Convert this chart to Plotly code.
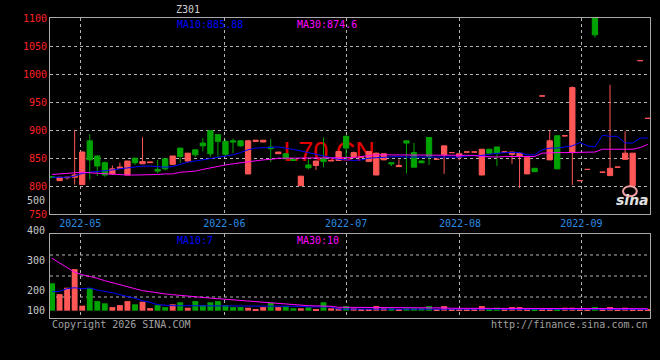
import plotly.graph_objects as go

TITLE = "Z301"
WATERMARK = "L70.CN"
IDX = list(range(80))

OPEN = [817, 810, 815, 816, 803, 881, 854, 842, 822, 832,
        820, 850, 840, 842, 830, 849, 839, 868, 845, 865,
        877, 899, 892, 880, 881, 881, 822, 880, 879, 870,
        858, 858, 848, 801, 838, 837, 849, 845, 846, 889,
        853, 852, 844, 820, 847, 842, 835, 881, 860, 845,
        887, 848, 856, 860, 852, 861, 861, 820, 866, 870,
        861, 857, 853, 822, 832, 961, 847, 890, 890, 860,
        810, 830, 1100, 825, 819, 834, 848, 801, 1024, 921]
HIGH = [818, 816, 817, 900, 862, 893, 855, 844, 837, 842,
        845, 851, 887, 843, 847, 849, 854, 868, 859, 866,
        886, 899, 892, 883, 885, 882, 883, 882, 882, 884,
        861, 859, 848, 818, 848, 845, 887, 846, 862, 891,
        862, 853, 862, 860, 858, 842, 848, 881, 877, 846,
        887, 849, 872, 861, 858, 861, 861, 866, 866, 870,
        861, 861, 859, 851, 832, 961, 899, 890, 890, 978,
        810, 830, 1100, 825, 981, 834, 898, 859, 1024, 921]
LOW = [815, 810, 812, 803, 803, 812, 818, 817, 821, 831,
       820, 838, 840, 842, 823, 828, 839, 842, 843, 852,
       862, 853, 853, 853, 859, 871, 822, 880, 878, 843,
       858, 849, 846, 801, 830, 829, 834, 845, 846, 847,
       850, 852, 844, 820, 847, 836, 835, 823, 834, 842,
       838, 848, 822, 860, 846, 861, 861, 820, 859, 836,
       861, 840, 797, 822, 826, 961, 847, 831, 889, 802,
       810, 830, 1065, 825, 818, 834, 848, 801, 1024, 921]
CLOSE = [816, 816, 816, 820, 861, 847, 836, 820, 831, 834,
         845, 842, 844, 843, 827, 831, 854, 853, 859, 856,
         872, 858, 880, 857, 879, 872, 881, 882, 882, 867,
         861, 849, 846, 818, 833, 845, 844, 846, 862, 868,
         860, 852, 862, 859, 858, 840, 837, 877, 834, 842,
         853, 848, 872, 860, 858, 861, 861, 866, 859, 859,
         861, 861, 859, 851, 826, 961, 881, 831, 890, 976,
         810, 830, 1070, 825, 832, 834, 859, 859, 1024, 921]
VOLUME = [137, 83, 115, 208, 25, 113, 48, 37, 18, 28,
          48, 32, 45, 13, 28, 18, 32, 42, 15, 48,
          28, 42, 48, 28, 18, 18, 15, 8, 18, 40,
          18, 23, 12, 12, 17, 4, 42, 12, 12, 23,
          12, 4, 8, 23, 12, 12, 8, 12, 12, 12,
          23, 8, 23, 8, 8, 8, 8, 23, 8, 15,
          8, 18, 18, 8, 8, 8, 8, 8, 15, 15,
          6, 6, 18, 6, 18, 6, 15, 6, 6, 6]
MA10 = [816, 816, 816, 818, 823, 825, 826, 828, 829, 831,
        833, 835, 836, 836, 835, 834, 835, 839, 843, 845,
        847, 849, 852, 853, 856, 860, 865, 868, 869, 870,
        870, 868, 866, 863, 860, 857, 855, 851, 848, 847,
        846, 847, 850, 851, 852, 852, 853, 852, 852, 851,
        851, 851, 851, 851, 852, 854, 854, 855, 857, 859,
        860, 860, 860, 856, 856, 865, 868, 868, 870, 872,
        878, 872, 870, 891, 889, 889, 877, 877, 886, 885.88]
MA30 = [821, 822, 823, 824, 825, 824, 823, 822, 821, 820,
        820, 820, 820, 821, 821, 822, 822, 825, 826, 827,
        830, 833, 836, 838, 840, 842, 844, 846, 847, 848,
        850, 850, 850, 850, 851, 851, 851, 851, 851, 851,
        851, 853, 855, 856, 856, 856, 856, 856, 856, 856,
        856, 856, 856, 856, 856, 856, 855, 853, 852, 852,
        853, 853, 853, 853, 853, 859, 860, 860, 860, 860,
        860, 861, 861, 866, 866, 866, 866, 866, 869, 874.6]
VMA10 = [95, 97, 110, 115, 109, 114, 103, 97, 90, 80,
         72, 62, 50, 42, 30, 27, 25, 25, 25, 25,
         25, 25, 25, 25, 25, 22, 22, 22, 22, 22,
         22, 22, 22, 22, 19, 19, 19, 19, 8, 8,
         8, 8, 8, 8, 8, 5, 5, 5, 5, 5,
         5, 5, 5, 5, 5, 5, 5, 5, 5, 5,
         5, 5, 5, 5, 5, 5, 5, 5, 5, 5,
         5, 7, 7, 7, 7, 7, 7, 7, 7, 7]
VMA30 = [262, 240, 215, 192, 180, 172, 162, 150, 140, 130,
         120, 110, 100, 95, 88, 84, 80, 76, 72, 70,
         66, 63, 60, 57, 54, 50, 47, 43, 40, 38,
         36, 33, 30, 27, 25, 24, 23, 22, 17, 17,
         17, 17, 17, 17, 17, 14, 14, 14, 14, 14,
         14, 14, 14, 12, 12, 12, 12, 12, 12, 12,
         9, 9, 9, 9, 9, 9, 9, 9, 9, 9,
         9, 9, 9, 9, 9, 9, 10, 10, 10, 10]

MONTHS = ["2022-05", "2022-06", "2022-07", "2022-08", "2022-09"]
MONTH_POS = [3.75, 22.85, 39.0, 54.1, 70.2]
PRICE_TICKS = [1100, 1050, 1000, 950, 900, 850, 800, 750]
ODD_PRICE_LABEL = ("500", 775)
VOL_LABELS = ["400", "300", "200", "100"]
VOL_LABEL_AT = [400, 252, 102, 0]
PRICE_LEGEND = ("MA10:885.88", "MA30:874.6")
VOL_LEGEND = ("MA10:7", "MA30:10")

RED = "#ff5656"
GREEN = "#00a400"
BLUE = "#0000ff"
MAG = "#ff00ff"
GRID = "#b4b4b4"
FRAME = "#a8a8a8"
MONO = "DejaVu Sans Mono"

PRICE_RANGE = [750, 1100]
VOL_RANGE = [-36.5, 383.5]
PRICE_DOM = [0.3457, 1.0]
VOL_DOM = [0.0, 0.28]

fig = go.Figure()

up = [i for i in IDX if CLOSE[i] >= OPEN[i]]
dn = [i for i in IDX if CLOSE[i] < OPEN[i]]
for sel, col in ((up, RED), (dn, GREEN)):
    st = dict(line=dict(color=col, width=1), fillcolor=col)
    fig.add_trace(go.Candlestick(
        x=sel,
        open=[OPEN[i] for i in sel], high=[HIGH[i] for i in sel],
        low=[LOW[i] for i in sel], close=[CLOSE[i] for i in sel],
        increasing=st, decreasing=st, whiskerwidth=0,
        xaxis="x", yaxis="y", hoverinfo="skip", showlegend=False))

fig.add_trace(go.Scatter(x=IDX, y=MA10, mode="lines", line=dict(color=BLUE, width=1),
                         xaxis="x", yaxis="y", hoverinfo="skip"))
fig.add_trace(go.Scatter(x=IDX, y=MA30, mode="lines", line=dict(color=MAG, width=1),
                         xaxis="x", yaxis="y", hoverinfo="skip"))

vcol = [RED if CLOSE[i] >= OPEN[i] else GREEN for i in IDX]
fig.add_trace(go.Bar(x=IDX, y=VOLUME, marker=dict(color=vcol, line=dict(width=0)),
                     width=0.78, xaxis="x2", yaxis="y2", hoverinfo="skip"))
fig.add_trace(go.Scatter(x=IDX, y=VMA10, mode="lines", line=dict(color=BLUE, width=1),
                         xaxis="x2", yaxis="y2", hoverinfo="skip"))
fig.add_trace(go.Scatter(x=IDX, y=VMA30, mode="lines", line=dict(color=MAG, width=1),
                         xaxis="x2", yaxis="y2", hoverinfo="skip"))

axis_common = dict(showline=True, linecolor=FRAME, linewidth=1, mirror=True,
                   zeroline=False, ticks="", fixedrange=True)

fig.update_layout(
    width=660, height=360,
    margin=dict(l=50, r=10, t=18, b=42),
    paper_bgcolor="black", plot_bgcolor="black",
    showlegend=False, boxgap=0.3, boxgroupgap=0,
    font=dict(family=MONO, size=10, color="#c8c8c8"),
    xaxis=dict(domain=[0, 1], anchor="y", range=[-0.27, 79.3],
               tickvals=MONTH_POS, ticktext=MONTHS,
               tickfont=dict(color="#2a8ce0", size=10, family=MONO),
               showgrid=True, gridcolor=GRID, griddash="dot", gridwidth=1,
               rangeslider=dict(visible=False), **axis_common),
    yaxis=dict(domain=PRICE_DOM, anchor="x", range=PRICE_RANGE,
               tickvals=PRICE_TICKS, ticktext=[str(v) for v in PRICE_TICKS],
               tickfont=dict(color="#ff2020", size=10, family=MONO),
               showgrid=True, gridcolor=GRID, griddash="dot", gridwidth=1,
               **axis_common),
    xaxis2=dict(domain=[0, 1], anchor="y2", matches="x", range=[-0.27, 79.3],
                tickvals=MONTH_POS, showticklabels=False,
                showgrid=True, gridcolor=GRID, griddash="dot", gridwidth=1,
                **axis_common),
    yaxis2=dict(domain=VOL_DOM, anchor="x2", range=VOL_RANGE,
                showticklabels=False, showgrid=False, **axis_common),
)

# volume panel dotted gridlines (equal quarters of the panel)
for f in (0.25, 0.5, 0.75):
    fig.add_shape(type="line", xref="paper", yref="y2 domain", x0=0, x1=1, y0=f, y1=f,
                  line=dict(color=GRID, width=1, dash="dot"), layer="below")

def vol_paper(v):
    return VOL_DOM[0] + (v - VOL_RANGE[0]) / (VOL_RANGE[1] - VOL_RANGE[0]) * (VOL_DOM[1] - VOL_DOM[0])

def price_paper(v):
    return PRICE_DOM[0] + (v - PRICE_RANGE[0]) / (PRICE_RANGE[1] - PRICE_RANGE[0]) * (PRICE_DOM[1] - PRICE_DOM[0])

ann = []
for t, v in zip(VOL_LABELS, VOL_LABEL_AT):
    ann.append(dict(text=t, xref="paper", yref="paper", x=0, y=vol_paper(v),
                    xanchor="right", yanchor="middle", xshift=-3, showarrow=False,
                    font=dict(color="#c8c8c8", size=10, family=MONO)))
ann.append(dict(text=ODD_PRICE_LABEL[0], xref="paper", yref="paper", x=0,
                y=price_paper(ODD_PRICE_LABEL[1]), xanchor="right", yanchor="middle",
                xshift=-3, showarrow=False, font=dict(color="#c8c8c8", size=10, family=MONO)))
ann.append(dict(text=TITLE, xref="paper", yref="paper", x=0.23, y=1.0, yshift=9,
                xanchor="center", yanchor="middle", showarrow=False,
                font=dict(color="#d0d0d0", size=10, family=MONO)))
ann.append(dict(text=PRICE_LEGEND[0], xref="paper", yref="paper", x=0.2083, y=0.98,
                xanchor="left", yanchor="middle", showarrow=False,
                font=dict(color=BLUE, size=10, family=MONO)))
ann.append(dict(text=PRICE_LEGEND[1], xref="paper", yref="paper", x=0.4083, y=0.98,
                xanchor="left", yanchor="middle", showarrow=False,
                font=dict(color=MAG, size=10, family=MONO)))
ann.append(dict(text=VOL_LEGEND[0], xref="paper", yref="paper", x=0.2083, y=0.2567,
                xanchor="left", yanchor="middle", showarrow=False,
                font=dict(color=BLUE, size=10, family=MONO)))
ann.append(dict(text=VOL_LEGEND[1], xref="paper", yref="paper", x=0.4083, y=0.2567,
                xanchor="left", yanchor="middle", showarrow=False,
                font=dict(color=MAG, size=10, family=MONO)))
ann.append(dict(text="Copyright 2026 SINA.COM", xref="paper", yref="paper", x=0, y=0,
                yshift=-6, xanchor="left", yanchor="middle", showarrow=False,
                font=dict(color="#a0a0a0", size=10, family=MONO)))
ann.append(dict(text="http://finance.sina.com.cn", xref="paper", yref="paper", x=1, y=0,
                yshift=-6, xanchor="right", yanchor="middle", showarrow=False,
                font=dict(color="#a0a0a0", size=10, family=MONO)))
ann.append(dict(text="<b><i>sina</i></b>", xref="paper", yref="paper", x=0.97, y=price_paper(775),
                xanchor="center", yanchor="middle", showarrow=False,
                font=dict(color="#e0e0e0", size=14, family="DejaVu Sans")))
fig.update_layout(annotations=ann)

# sina eye logo
fig.add_shape(type="circle", xref="paper", yref="paper",
              x0=0.955, x1=0.978, y0=price_paper(782), y1=price_paper(800),
              line=dict(color="#f0a0a0", width=2))

# watermark under the candles
fig.add_shape(type="rect", xref="paper", yref="paper", x0=0.37, x1=0.56, y0=0.50, y1=0.63,
              line=dict(width=0), fillcolor="rgba(0,0,0,0)", layer="below",
              label=dict(text=WATERMARK, font=dict(color="#e00000", size=27, family="Liberation Sans"),
                         textposition="middle center"))

fig.write_html("out.html")
